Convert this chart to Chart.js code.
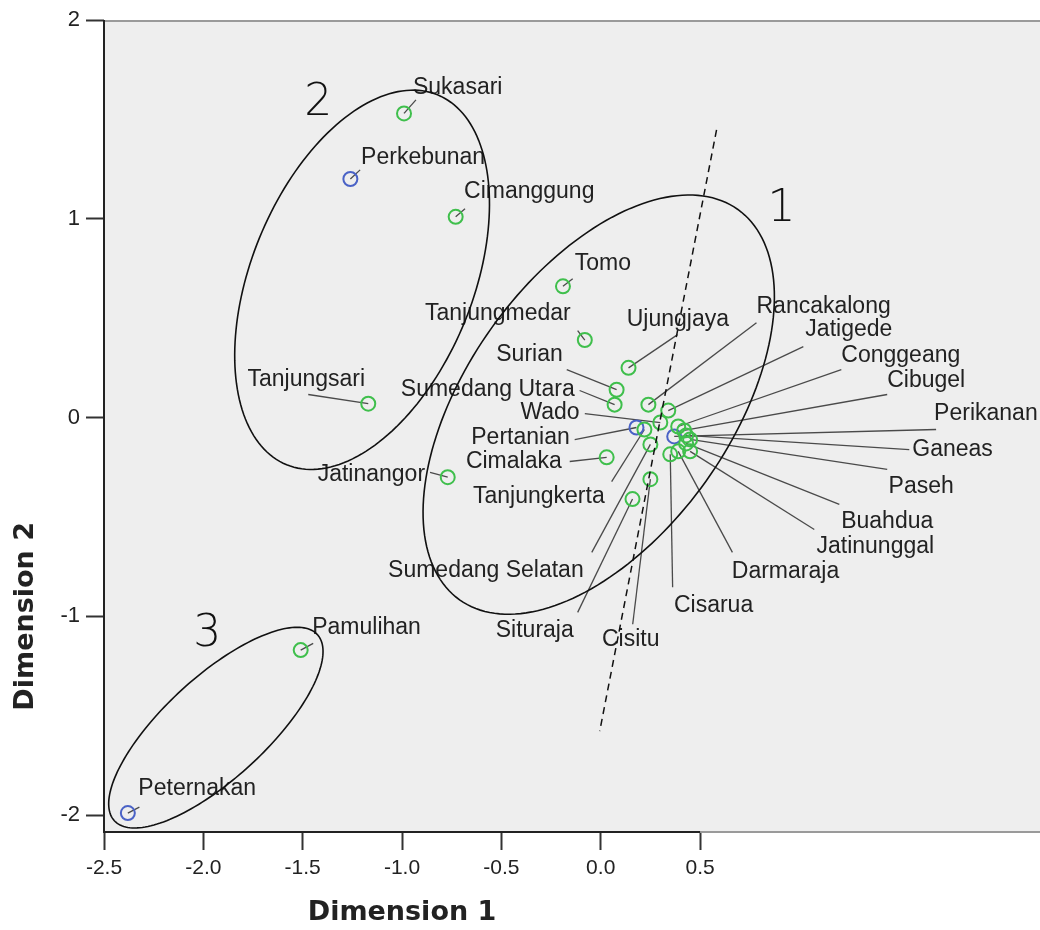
<!DOCTYPE html>
<html>
<head>
<meta charset="utf-8">
<script src="https://cdn.jsdelivr.net/npm/chart.js@4.4.1/dist/chart.umd.min.js"></script>
<style>
  body { margin: 0; background: #fff; }
  canvas { display: block; }
</style>
</head>
<body>
<canvas id="chart" width="1040" height="930"></canvas>
<script>
// Districts (green) - dimension scores
const districtNames = ["Sukasari", "Cimanggung", "Tomo", "Tanjungmedar", "Ujungjaya", "Surian",
  "Sumedang Utara", "Rancakalong", "Jatigede", "Wado", "Tanjungkerta", "Conggeang", "Cibugel",
  "Ganeas", "Paseh", "Buahdua", "Sumedang Selatan", "Jatinunggal", "Darmaraja", "Cisarua",
  "Cimalaka", "Cisitu", "Situraja", "Tanjungsari", "Jatinangor", "Pamulihan"];
const districtDim1 = [-0.99, -0.73, -0.19, -0.08, 0.14, 0.08, 0.07, 0.24, 0.34, 0.30, 0.22, 0.39, 0.42,
  0.43, 0.45, 0.43, 0.25, 0.45, 0.39, 0.35, 0.03, 0.25, 0.16, -1.17, -0.77, -1.51];
const districtDim2 = [1.53, 1.01, 0.66, 0.39, 0.25, 0.14, 0.065, 0.065, 0.035, -0.025, -0.06, -0.045, -0.065,
  -0.09, -0.11, -0.13, -0.135, -0.17, -0.17, -0.185, -0.20, -0.31, -0.41, 0.07, -0.30, -1.17];

// Sectors (blue)
const sectorNames = ["Perkebunan", "Pertanian", "Perikanan", "Peternakan"];
const sectorDim1 = [-1.26, 0.18, 0.37, -2.38];
const sectorDim2 = [1.20, -0.05, -0.095, -1.99];

// Axis ticks
const xTicks = [-2.5, -2.0, -1.5, -1.0, -0.5, 0.0, 0.5];
const yTicks = [-2, -1, 0, 1, 2];

// Label placement in dimension units: [textX, textY, align, leaderX, leaderY]
const labelLayout = {
  "Sukasari": [-0.945, 1.658, "left", -0.93, 1.598],
  "Perkebunan": [-1.206, 1.307, "left", -1.211, 1.246],
  "Cimanggung": [-0.688, 1.136, "left", -0.683, 1.05],
  "Tomo": [-0.131, 0.774, "left", -0.141, 0.698],
  "Tanjungmedar": [-0.151, 0.523, "right", -0.116, 0.437],
  "Ujungjaya": [0.131, 0.492, "left", 0.387, 0.417],
  "Surian": [-0.191, 0.317, "right", -0.171, 0.241],
  "Sumedang Utara": [-0.131, 0.141, "right", -0.106, 0.136],
  "Wado": [-0.106, 0.025, "right", -0.08, 0.02],
  "Pertanian": [-0.156, -0.101, "right", -0.131, -0.111],
  "Cimalaka": [-0.196, -0.221, "right", -0.156, -0.221],
  "Tanjungkerta": [0.02, -0.397, "right", 0.055, -0.322],
  "Sumedang Selatan": [-0.578, -0.769, "center", -0.045, -0.678],
  "Situraja": [-0.332, -1.07, "center", -0.116, -0.98],
  "Cisitu": [0.151, -1.116, "center", 0.161, -1.04],
  "Cisarua": [0.568, -0.945, "center", 0.362, -0.854],
  "Darmaraja": [0.93, -0.774, "center", 0.663, -0.678],
  "Jatinunggal": [1.382, -0.648, "center", 1.075, -0.563],
  "Buahdua": [1.442, -0.523, "center", 1.201, -0.437],
  "Paseh": [1.613, -0.347, "center", 1.442, -0.261],
  "Ganeas": [1.568, -0.161, "left", 1.553, -0.161],
  "Perikanan": [1.678, 0.02, "left", 1.688, -0.06],
  "Cibugel": [1.442, 0.186, "left", 1.442, 0.116],
  "Conggeang": [1.211, 0.312, "left", 1.211, 0.241],
  "Jatigede": [1.03, 0.442, "left", 1.02, 0.357],
  "Rancakalong": [0.784, 0.558, "left", 0.784, 0.477],
  "Tanjungsari": [-1.482, 0.191, "center", -1.472, 0.116],
  "Jatinangor": [-0.884, -0.286, "right", -0.859, -0.276],
  "Pamulihan": [-1.452, -1.055, "left", -1.447, -1.136],
  "Peternakan": [-2.327, -1.869, "left", -2.322, -1.96]
};

// Cluster ellipses (centre, semi axes, tilt in degrees) and their numbers
const clusters = [
  { no: "1", cx: -0.01, cy: 0.065, a: 1.206, b: 0.663, tilt: 54.5, nx: 0.91, ny: 1.045 },
  { no: "2", cx: -1.201, cy: 0.693, a: 1.005, b: 0.558, tilt: 67.8, nx: -1.422, ny: 1.578 },
  { no: "3", cx: -1.937, cy: -1.56, a: 0.693, b: 0.256, tilt: 42.5, nx: -1.98, ny: -1.09 }
];
const dividerLine = [[0.583, 1.447], [-0.005, -1.578]];

const GREEN = "#3fbf4c";
const BLUE = "#4a62c6";
const TEXT = "#222";
const LABEL_FONT = '23px "Liberation Sans", Arial, sans-serif';

function toPoints(names, xs, ys) {
  return names.map((n, i) => ({ x: xs[i], y: ys[i], name: n }));
}

const overlay = {
  id: "overlay",
  beforeDraw(chart) {
    const { ctx, chartArea: a } = chart;
    ctx.save();
    ctx.fillStyle = "#eeeeee";
    ctx.fillRect(a.left, a.top, a.right - a.left, a.bottom - a.top);
    ctx.restore();
  },
  beforeDatasetsDraw(chart) {
    // leader lines from each point to its label
    const { ctx } = chart;
    const xs = chart.scales.x, ys = chart.scales.y;
    ctx.save();
    ctx.strokeStyle = "#4a4a4a";
    ctx.lineWidth = 1.3;
    chart.data.datasets.forEach(ds => {
      ds.data.forEach(p => {
        const l = labelLayout[p.name];
        if (!l) return;
        ctx.beginPath();
        ctx.moveTo(xs.getPixelForValue(p.x), ys.getPixelForValue(p.y));
        ctx.lineTo(xs.getPixelForValue(l[3]), ys.getPixelForValue(l[4]));
        ctx.stroke();
      });
    });
    ctx.restore();
  },
  afterDatasetsDraw(chart) {
    const { ctx, chartArea: area } = chart;
    const xs = chart.scales.x, ys = chart.scales.y;
    const px = v => xs.getPixelForValue(v);
    const py = v => ys.getPixelForValue(v);

    ctx.save();
    // point labels
    ctx.font = LABEL_FONT;
    ctx.fillStyle = TEXT;
    ctx.textBaseline = "middle";
    chart.data.datasets.forEach(ds => {
      ds.data.forEach(p => {
        const l = labelLayout[p.name];
        if (!l) return;
        ctx.textAlign = l[2];
        ctx.fillText(p.name, px(l[0]), py(l[1]));
      });
    });

    // ellipses
    ctx.strokeStyle = "#111";
    ctx.lineWidth = 1.6;
    clusters.forEach(c => {
      const phi = c.tilt * Math.PI / 180;
      ctx.beginPath();
      for (let i = 0; i <= 180; i++) {
        const t = i / 180 * Math.PI * 2;
        const ex = c.cx + c.a * Math.cos(t) * Math.cos(phi) - c.b * Math.sin(t) * Math.sin(phi);
        const ey = c.cy + c.a * Math.cos(t) * Math.sin(phi) + c.b * Math.sin(t) * Math.cos(phi);
        if (i === 0) ctx.moveTo(px(ex), py(ey));
        else ctx.lineTo(px(ex), py(ey));
      }
      ctx.closePath();
      ctx.stroke();
    });

    // dashed divider
    ctx.setLineDash([7, 5]);
    ctx.lineWidth = 1.5;
    ctx.beginPath();
    ctx.moveTo(px(dividerLine[0][0]), py(dividerLine[0][1]));
    ctx.lineTo(px(dividerLine[1][0]), py(dividerLine[1][1]));
    ctx.stroke();
    ctx.setLineDash([]);

    // cluster numbers
    ctx.font = '200 44px "DejaVu Sans ExtraLight", "DejaVu Sans", sans-serif';
    ctx.textAlign = "center";
    ctx.fillStyle = "#111";
    clusters.forEach(c => ctx.fillText(c.no, px(c.nx), py(c.ny)));

    // frame: grey top and right part, black axes
    ctx.lineWidth = 2;
    ctx.strokeStyle = "#9a9a9a";
    ctx.beginPath();
    ctx.moveTo(area.left, area.top + 1);
    ctx.lineTo(area.right, area.top + 1);
    ctx.moveTo(px(0.5), area.bottom);
    ctx.lineTo(area.right, area.bottom);
    ctx.stroke();
    ctx.strokeStyle = "#222";
    ctx.beginPath();
    ctx.moveTo(area.left, area.top);
    ctx.lineTo(area.left, area.bottom);
    ctx.lineTo(px(0.5), area.bottom);
    ctx.stroke();

    // axis titles
    ctx.font = 'bold 27px "DejaVu Sans", sans-serif';
    ctx.fillStyle = TEXT;
    ctx.textAlign = "center";
    ctx.fillText("Dimension 1", px(-1.0), 913);
    ctx.translate(26, py(-1.0));
    ctx.rotate(-Math.PI / 2);
    ctx.fillText("Dimension 2", 0, 0);
    ctx.restore();
  }
};

new Chart(document.getElementById("chart").getContext("2d"), {
  type: "scatter",
  data: {
    datasets: [
      {
        label: "Kecamatan",
        data: toPoints(districtNames, districtDim1, districtDim2),
        borderColor: GREEN,
        backgroundColor: "transparent",
        borderWidth: 2,
        pointRadius: 7
      },
      {
        label: "Sektor",
        data: toPoints(sectorNames, sectorDim1, sectorDim2),
        borderColor: BLUE,
        backgroundColor: "transparent",
        borderWidth: 2,
        pointRadius: 7
      }
    ]
  },
  options: {
    responsive: false,
    animation: false,
    layout: { autoPadding: false, padding: { top: 20, right: 0, left: 0, bottom: 0 } },
    plugins: { legend: { display: false }, tooltip: { enabled: false } },
    scales: {
      x: {
        type: "linear",
        min: -2.5,
        max: 2.211,
        afterBuildTicks: s => { s.ticks = xTicks.map(v => ({ value: v })); },
        afterFit: s => { s.height = 98; },
        ticks: {
          font: { family: "Liberation Sans", size: 21 },
          color: TEXT,
          padding: 6,
          maxRotation: 0,
          callback: v => v.toFixed(1)
        },
        grid: { drawOnChartArea: false, drawTicks: true, tickLength: 18, tickWidth: 2, tickColor: "#333" },
        border: { display: false }
      },
      y: {
        type: "linear",
        min: -2.085,
        max: 2,
        afterBuildTicks: s => { s.ticks = yTicks.map(v => ({ value: v })); },
        afterFit: s => { s.width = 104; },
        ticks: {
          font: { family: "Liberation Sans", size: 22 },
          color: TEXT,
          padding: 6,
          callback: v => String(v)
        },
        grid: { drawOnChartArea: false, drawTicks: true, tickLength: 18, tickWidth: 2, tickColor: "#333" },
        border: { display: false }
      }
    }
  },
  plugins: [overlay]
});
</script>
</body>
</html>
